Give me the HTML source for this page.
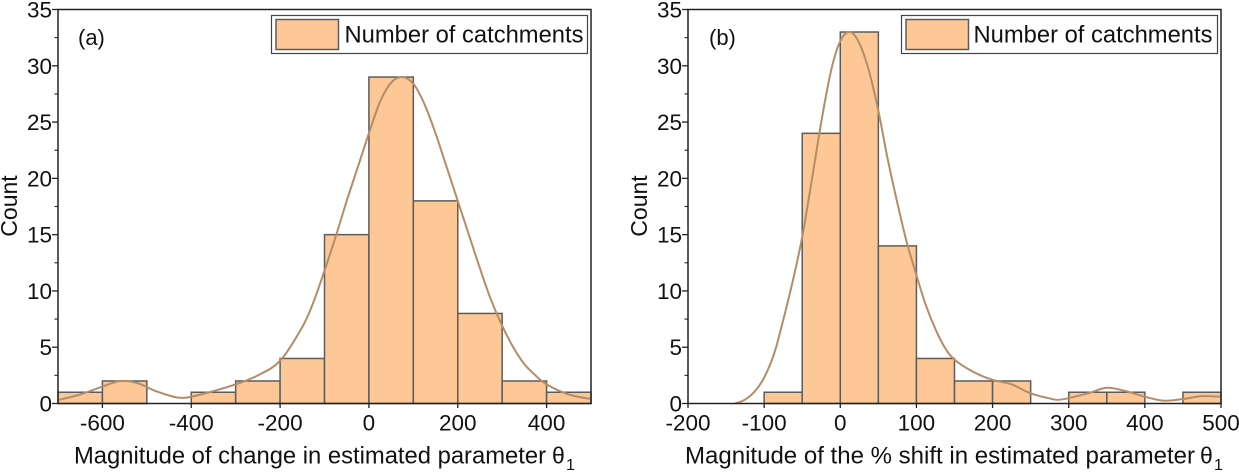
<!DOCTYPE html>
<html>
<head>
<meta charset="utf-8">
<style>
html,body{margin:0;padding:0;background:#fff;width:1239px;height:472px;overflow:hidden}
svg{display:block}
text{font-family:"Liberation Sans",sans-serif;fill:#111}
</style>
</head>
<body>
<svg id="fig" width="1239" height="472" viewBox="0 0 1239 472" xmlns="http://www.w3.org/2000/svg"></svg>
<script>
const binStartsA = [-700,-600,-500,-400,-300,-200,-100,0,100,200,300,400];
const countsA = [1,2,0,1,2,4,15,29,18,8,2,1];
const curveXA = [-700,-650,-600,-560,-520,-480,-440,-420,-400,-350,-300,-250,-200,-150,-125,-100,-75,-50,-25,0,25,50,75,100,125,150,175,200,225,250,275,300,325,350,375,400,450,500];
const curveYA = [0.3,0.8,1.5,2,1.8,1.1,0.6,0.5,0.6,1.1,1.7,2.5,3.8,6.8,9,11.8,14.8,18,21,24,26.8,28.5,29,28.4,26.6,24,21,18,15,12,9.2,6.9,5,3.5,2.5,1.7,0.8,0.4];
const xTicksA = [-600,-400,-200,0,200,400];
const xTickLabelsA = ["-600","-400","-200","0","200","400"];

const binStartsB = [-100,-50,0,50,100,150,200,250,300,350,400,450];
const countsB = [1,24,33,14,4,2,2,0,1,1,0,1];
const curveXB = [-138,-125,-112,-100,-87,-75,-62,-50,-37,-25,-12,0,13,25,37,50,62,75,87,100,112,125,137,150,175,200,225,250,275,290,325,350,375,400,425,450,475,500];
const curveYB = [0,0.35,1.1,2.3,4.4,7.4,11,14.8,20,25,29.6,32.2,33,32,29.7,26,21.8,17.8,14.4,11.4,8.8,6.6,5,3.9,2.8,2.1,1.7,0.9,0.45,0.35,0.9,1.4,1.1,0.6,0.25,0.4,0.65,0.6];
const xTicksB = [-200,-100,0,100,200,300,400,500];
const xTickLabelsB = ["-200","-100","0","100","200","300","400","500"];

const yTicks = [0,5,10,15,20,25,30,35];
const yTickLabels = ["0","5","10","15","20","25","30","35"];

const NS = "http://www.w3.org/2000/svg";
const svg = document.getElementById("fig");

function mk(tag, attrs, parent, txt){
  const e = document.createElementNS(NS, tag);
  for (const k in attrs) e.setAttribute(k, attrs[k]);
  if (txt !== undefined) e.textContent = txt;
  parent.appendChild(e);
  return e;
}

function smoothPath(pts){
  let d = "M" + pts[0][0].toFixed(2) + " " + pts[0][1].toFixed(2);
  for (let i = 0; i < pts.length - 1; i++){
    const p0 = pts[Math.max(i-1,0)], p1 = pts[i], p2 = pts[i+1], p3 = pts[Math.min(i+2,pts.length-1)];
    const c1x = p1[0] + (p2[0]-p0[0])/6, c1y = p1[1] + (p2[1]-p0[1])/6;
    const c2x = p2[0] - (p3[0]-p1[0])/6, c2y = p2[1] - (p3[1]-p1[1])/6;
    d += "C" + c1x.toFixed(2) + " " + c1y.toFixed(2) + " " + c2x.toFixed(2) + " " + c2y.toFixed(2) + " " + p2[0].toFixed(2) + " " + p2[1].toFixed(2);
  }
  return d;
}

function drawPanel(cfg){
  const g = mk("g", {}, svg);
  
  

  const sx = v => cfg.left + (v - cfg.xMin) / (cfg.xMax - cfg.xMin) * (cfg.right - cfg.left);
  const sy = v => 403.5 - v / 35 * (403.5 - 9.5);

  // bars
  cfg.bins.forEach((b, i) => {
    const x0 = sx(b), x1 = sx(b + cfg.binW), y = sy(cfg.counts[i]);
    const bar = mk("rect", {x:x0, y:y, width:x1-x0, height:sy(0)-y, fill:"#fdc896", stroke:"#5c5c5c", "stroke-width":1.5}, g);
    
    
  });

  // fit curve
  const pts = cfg.curveX.map((x, i) => [sx(x), sy(cfg.curveY[i])]);
  const curve = mk("path", {d:smoothPath(pts), fill:"none", stroke:"#b48d68", "stroke-width":2}, g);
  
  

  // frame
  const frame = mk("rect", {x:cfg.left, y:9.5, width:cfg.right-cfg.left, height:394, fill:"none", stroke:"#222", "stroke-width":1.5}, g);
  
  

  // y ticks
  yTicks.forEach((v, i) => {
    const t = mk("line", {x1:cfg.left-6, x2:cfg.left, y1:sy(v), y2:sy(v), stroke:"#222", "stroke-width":1.3}, g);
    
    
    if (v < 35){
      const m = mk("line", {x1:cfg.left-3.5, x2:cfg.left, y1:sy(v+2.5), y2:sy(v+2.5), stroke:"#222", "stroke-width":1.1}, g);
      
      
    }
    const l = mk("text", {x:cfg.left-6, y:sy(v)+8, "text-anchor":"end", "font-size":22.5}, g, yTickLabels[i]);
    
    
  });

  // x ticks
  cfg.xTicks.forEach((v, i) => {
    const t = mk("line", {x1:sx(v), x2:sx(v), y1:403.5, y2:408, stroke:"#222", "stroke-width":1.3}, g);
    
    
    const l = mk("text", {x:sx(v), y:430.5, "text-anchor":"middle", "font-size":22.5}, g, cfg.xTickLabels[i]);
    
    
  });

  // axis titles
  const yt = mk("text", {transform:"translate(" + cfg.yTitleX + ",206) rotate(-90)", "text-anchor":"middle", "font-size":23}, g, "Count");
  
  

  const xt = mk("text", {x:cfg.xTitleX, y:463.5, "font-size":24, textLength:cfg.xTitleW, lengthAdjust:"spacingAndGlyphs"}, g, cfg.xTitle);
  
  

  const th = mk("text", {x:cfg.thetaX, y:463.5, "font-size":23, "font-family":"DejaVu Serif"}, g, "θ");
  
  

  const sub = mk("text", {x:cfg.thetaX+14, y:470, "font-size":16}, g, "1");
  
  

  // panel label
  const pl = mk("text", {x:cfg.panelX, y:45, "font-size":22}, g, cfg.panelLabel);
  
  

  // legend
  const lg = mk("g", {}, g);
  
  
  const box = mk("rect", {x:cfg.legendX, y:15.5, width:cfg.legendW, height:38, fill:"#fff", stroke:"#444", "stroke-width":1.2}, lg);
  
  
  const sw = mk("rect", {x:cfg.legendX+4.5, y:19.5, width:62.5, height:30, fill:"#fdc896", stroke:"#5c5c5c", "stroke-width":1.5}, lg);
  
  
  const lt = mk("text", {x:cfg.legendX+cfg.legendTextOffset, y:42.5, "font-size":24.5, textLength:239, lengthAdjust:"spacingAndGlyphs"}, lg, "Number of catchments");
  
  
}

drawPanel({
  id:"a", left:58, right:591, xMin:-700, xMax:500, binW:100,
  bins:binStartsA, counts:countsA, curveX:curveXA, curveY:curveYA,
  xTicks:xTicksA, xTickLabels:xTickLabelsA,
  yTitleX:17, xTitle:"Magnitude of change in estimated parameter", xTitleX:74, xTitleW:472, thetaX:552,
  panelX:78, panelLabel:"(a)", legendX:271.5, legendW:316, legendTextOffset:73
});

drawPanel({
  id:"b", left:688, right:1221, xMin:-200, xMax:500, binW:50,
  bins:binStartsB, counts:countsB, curveX:curveXB, curveY:curveYB,
  xTicks:xTicksB, xTickLabels:xTickLabelsB,
  yTitleX:647, xTitle:"Magnitude of the % shift in estimated parameter", xTitleX:685, xTitleW:510, thetaX:1200,
  panelX:709, panelLabel:"(b)", legendX:901.5, legendW:316, legendTextOffset:72
});
</script>
</body>
</html>
